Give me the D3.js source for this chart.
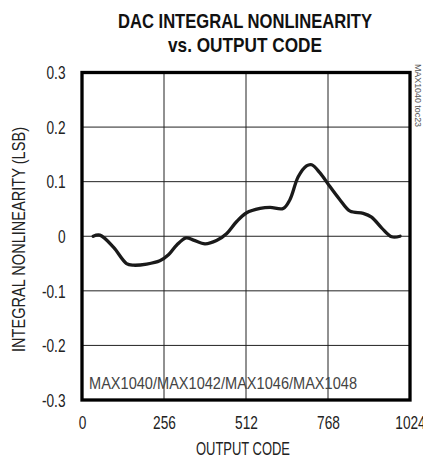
<!DOCTYPE html>
<html><head><meta charset="utf-8">
<script src="https://cdn.jsdelivr.net/npm/d3@7"></script>
<style>body{margin:0;background:#fff}svg{display:block}text{font-family:"Liberation Sans",Arial,sans-serif}</style>
</head><body>
<script>
const codes = [35,56,98,139,160,202,243,270,296,325,348,384,420,452,483,514,556,587,628,649,675,701,717,743,774,805,837,878,904,936,967,993];
const inl   = [0.0,0.002,-0.02,-0.05,-0.053,-0.051,-0.045,-0.034,-0.016,-0.003,-0.007,-0.014,-0.008,0.005,0.027,0.043,0.051,0.053,0.051,0.067,0.109,0.129,0.131,0.116,0.091,0.067,0.046,0.042,0.035,0.015,-0.001,0.0];
const xTicks = [0,256,512,768,1024];
const xTickLabels = ["0","256","512","768","1024"];
const yTicks = [-0.3,-0.2,-0.1,0,0.1,0.2,0.3];
const yTickLabels = ["-0.3","-0.2","-0.1","0","0.1","0.2","0.3"];

const W=423,H=458;
const svg=d3.select("body").append("svg").attr("width",W).attr("height",H);
const x=d3.scaleLinear().domain([0,1024]).range([82,410]);
const y=d3.scaleLinear().domain([-0.3,0.3]).range([400,72.5]);
const SX=0.76;

svg.append("g").selectAll("line").data(xTicks.slice(1,-1)).join("line")
  .attr("x1",d=>x(d)).attr("x2",d=>x(d)).attr("y1",y(0.3)).attr("y2",y(-0.3))
  .attr("stroke","#222").attr("stroke-width",1);
svg.append("g").selectAll("line").data(yTicks.slice(1,-1)).join("line")
  .attr("y1",d=>y(d)).attr("y2",d=>y(d)).attr("x1",x(0)).attr("x2",x(1024))
  .attr("stroke","#222").attr("stroke-width",1);

svg.append("text").attr("x",89).attr("y",389).attr("font-size",17).attr("fill","#444")
  .attr("textLength",268).attr("lengthAdjust","spacingAndGlyphs")
  .text("MAX1040/MAX1042/MAX1046/MAX1048");

const line=d3.line().x((d,i)=>x(codes[i])).y(d=>y(d)).curve(d3.curveCatmullRom.alpha(0.5));
svg.append("path").datum(inl).attr("d",line).attr("fill","none")
  .attr("stroke","#1a1a1a").attr("stroke-width",3.3).attr("stroke-linejoin","round").attr("stroke-linecap","round");

svg.append("rect").attr("x",x(0)).attr("y",y(0.3)).attr("width",x(1024)-x(0)).attr("height",y(-0.3)-y(0.3))
  .attr("fill","none").attr("stroke","#000").attr("stroke-width",3.3);

const xa=d3.axisBottom(x).tickValues(xTicks).tickFormat((d,i)=>xTickLabels[i]).tickSize(0).tickPadding(0);
const gx=svg.append("g").attr("transform",`translate(0,${y(-0.3)})`).call(xa);
gx.select(".domain").remove();
gx.attr("font-family",null).attr("font-size",null);
gx.selectAll("text").attr("dy",null).attr("y",0).attr("font-size",18).attr("fill","#222")
  .attr("transform",`translate(0,29) scale(${SX},1)`);
const ya=d3.axisLeft(y).tickValues(yTicks).tickFormat((d,i)=>yTickLabels[i]).tickSize(0).tickPadding(0);
const gy=svg.append("g").attr("transform",`translate(65.5,0)`).call(ya);
gy.select(".domain").remove();
gy.attr("font-family",null).attr("font-size",null);
gy.selectAll("text").attr("x",0).attr("dy",null).attr("font-size",18).attr("fill","#222")
  .attr("transform",`translate(0,6.3) scale(${SX},1)`);

svg.append("text").attr("x",196).attr("y",455).attr("font-size",18).attr("fill","#222")
  .attr("textLength",94).attr("lengthAdjust","spacingAndGlyphs").text("OUTPUT CODE");
svg.append("text").attr("transform","translate(25,352) rotate(-90)").attr("font-size",17.5).attr("fill","#222")
  .attr("textLength",225).attr("lengthAdjust","spacingAndGlyphs").text("INTEGRAL NONLINEARITY (LSB)");

svg.append("text").attr("x",118).attr("y",27.5).attr("font-size",21).attr("font-weight","bold").attr("fill","#111")
  .attr("textLength",254).attr("lengthAdjust","spacingAndGlyphs").text("DAC INTEGRAL NONLINEARITY");
svg.append("text").attr("x",168).attr("y",51.5).attr("font-size",21).attr("font-weight","bold").attr("fill","#111")
  .attr("textLength",154).attr("lengthAdjust","spacingAndGlyphs").text("vs. OUTPUT CODE");

svg.append("text").attr("transform","translate(414.5,64) rotate(90)").attr("font-size",9).attr("fill","#555")
  .attr("textLength",63).attr("lengthAdjust","spacingAndGlyphs").text("MAX1040 toc23");
</script>
</body></html>
